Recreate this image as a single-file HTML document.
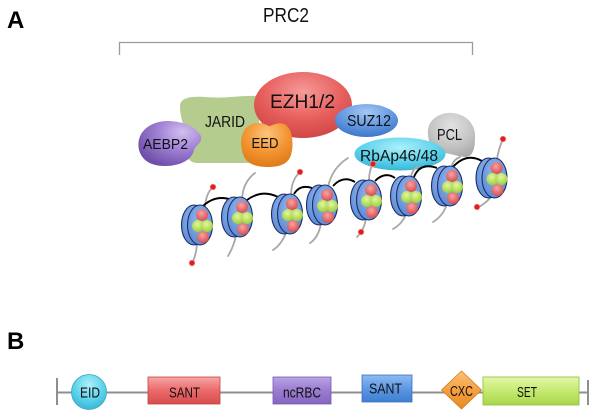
<!DOCTYPE html>
<html><head><meta charset="utf-8"><style>
html,body{margin:0;padding:0;background:#fff;}
svg{display:block;}
text{font-family:"Liberation Sans",sans-serif;}
</style></head><body>
<svg width="600" height="417" viewBox="0 0 600 417" xmlns="http://www.w3.org/2000/svg">
<defs>
<radialGradient id="gRed" cx="50%" cy="30%" r="70%"><stop offset="0" stop-color="#f59a98"/><stop offset="0.6" stop-color="#e65e5c"/><stop offset="1" stop-color="#cf4646"/></radialGradient>
<radialGradient id="gPur" cx="70%" cy="25%" r="80%"><stop offset="0" stop-color="#d2bff0"/><stop offset="0.5" stop-color="#9f80d4"/><stop offset="1" stop-color="#6f50aa"/></radialGradient>
<radialGradient id="gOra" cx="50%" cy="25%" r="75%"><stop offset="0" stop-color="#fcc57e"/><stop offset="0.55" stop-color="#f39532"/><stop offset="1" stop-color="#e07a18"/></radialGradient>
<radialGradient id="gBlu" cx="50%" cy="25%" r="75%"><stop offset="0" stop-color="#a6c8f4"/><stop offset="0.6" stop-color="#5f96e0"/><stop offset="1" stop-color="#3f76c6"/></radialGradient>
<radialGradient id="gGry" cx="50%" cy="30%" r="75%"><stop offset="0" stop-color="#e2e2e2"/><stop offset="0.6" stop-color="#c4c4c4"/><stop offset="1" stop-color="#a8a8a8"/></radialGradient>
<radialGradient id="gCya" cx="50%" cy="30%" r="75%"><stop offset="0" stop-color="#aef0fa"/><stop offset="0.6" stop-color="#58d0ea"/><stop offset="1" stop-color="#35b0d2"/></radialGradient>
<radialGradient id="gNuc" cx="50%" cy="35%" r="75%"><stop offset="0" stop-color="#94baf0"/><stop offset="1" stop-color="#5282d2"/></radialGradient>
<radialGradient id="gBall" cx="45%" cy="35%" r="65%"><stop offset="0" stop-color="#f6a4a4"/><stop offset="1" stop-color="#d84e50"/></radialGradient>
<radialGradient id="gGrn" cx="45%" cy="35%" r="65%"><stop offset="0" stop-color="#e4f7a0"/><stop offset="1" stop-color="#9ccf3c"/></radialGradient>
<linearGradient id="lRed" x1="0" y1="0" x2="0" y2="1"><stop offset="0" stop-color="#f7a6a6"/><stop offset="0.5" stop-color="#eb6a6a"/><stop offset="1" stop-color="#d84c4c"/></linearGradient>
<linearGradient id="lPur" x1="0" y1="0" x2="0" y2="1"><stop offset="0" stop-color="#b9a2e6"/><stop offset="0.5" stop-color="#9a7cd0"/><stop offset="1" stop-color="#8466c0"/></linearGradient>
<linearGradient id="lBlu" x1="0" y1="0" x2="0" y2="1"><stop offset="0" stop-color="#8fbaf2"/><stop offset="0.5" stop-color="#5e98e4"/><stop offset="1" stop-color="#3f7ed2"/></linearGradient>
<linearGradient id="lOra" x1="0" y1="0" x2="0" y2="1"><stop offset="0" stop-color="#fcc27a"/><stop offset="0.5" stop-color="#f5a040"/><stop offset="1" stop-color="#e88a22"/></linearGradient>
<linearGradient id="lGrn" x1="0" y1="0" x2="0" y2="1"><stop offset="0" stop-color="#e4f8a8"/><stop offset="0.5" stop-color="#c4ea70"/><stop offset="1" stop-color="#a8d64a"/></linearGradient>
<g id="nuc">
  <ellipse cx="-6" cy="0" rx="12.5" ry="20" fill="url(#gNuc)" stroke="#1c2c60" stroke-width="1.1"/>
  <ellipse cx="0" cy="0" rx="12.5" ry="20" fill="url(#gNuc)" stroke="#1c2c60" stroke-width="1.1"/>
  <circle cx="2" cy="-10" r="6" fill="url(#gBall)"/>
  <circle cx="3" cy="12" r="6" fill="url(#gBall)"/>
  <circle cx="-2" cy="1" r="6" fill="url(#gGrn)"/>
  <circle cx="7" cy="1" r="6" fill="url(#gGrn)"/>
</g>
</defs>

<!-- labels -->
<text x="7" y="28" font-size="24" font-weight="bold" fill="#000">A</text>
<text x="7" y="349" font-size="24" font-weight="bold" fill="#000">B</text>

<!-- PRC2 bracket -->
<text x="286" y="22" font-size="20" text-anchor="middle" textLength="46" lengthAdjust="spacingAndGlyphs" fill="#111">PRC2</text>
<path d="M119.5,55 V42.5 H472.5 V55" fill="none" stroke="#9a9a9a" stroke-width="1.3"/>

<!-- complex -->
<path d="M180,106 C180,98 190,96 205,97 C225,99 240,95 259,96 L259,163 L198,163 C190,163 186,158 186,150 L184,128 C182,120 180,114 180,106 Z" fill="#b4cd8f"/>
<ellipse cx="303" cy="105" rx="49" ry="33" fill="url(#gRed)"/>
<path d="M139,150 C135,132 151,120 170,121 C185,122 196,127 201,136 C203,142 196,145 194,150 C192,160 180,166 165,166 C150,166 142,160 139,150 Z" fill="url(#gPur)"/>
<path d="M242,150 C238,132 248,122 260,123 C265,123 267,126 270,126 C273,125 278,122 284,124 C293,128 294,145 291,155 C288,164 280,167 268,167 C252,167 244,162 242,150 Z" fill="url(#gOra)"/>
<ellipse cx="366.5" cy="120.5" rx="31.5" ry="16.5" fill="url(#gBlu)"/>
<path d="M428,135 C426,120 440,112 452,113 C466,114 476,124 475,138 C475,148 473,157 465,157 C455,156 450,153 442,153 C432,152 429,145 428,135 Z" fill="url(#gGry)"/>
<ellipse cx="400" cy="154" rx="45.5" ry="16.5" fill="url(#gCya)"/>

<text x="302.5" y="108" font-size="19" text-anchor="middle" textLength="65" lengthAdjust="spacingAndGlyphs" fill="#111">EZH1/2</text>
<text x="225" y="127" font-size="16" text-anchor="middle" textLength="40" lengthAdjust="spacingAndGlyphs" fill="#111">JARID</text>
<text x="165.5" y="149" font-size="15" text-anchor="middle" textLength="45" lengthAdjust="spacingAndGlyphs" fill="#111">AEBP2</text>
<text x="265" y="148" font-size="14.5" text-anchor="middle" textLength="27" lengthAdjust="spacingAndGlyphs" fill="#111">EED</text>
<text x="369" y="126" font-size="16" text-anchor="middle" textLength="44" lengthAdjust="spacingAndGlyphs" fill="#111">SUZ12</text>
<text x="449.5" y="140" font-size="16" text-anchor="middle" textLength="25" lengthAdjust="spacingAndGlyphs" fill="#111">PCL</text>
<text x="399" y="161" font-size="15.5" text-anchor="middle" textLength="78" lengthAdjust="spacingAndGlyphs" fill="#111">RbAp46/48</text>

<!-- grey DNA tails -->
<g fill="none" stroke="#a8a8a8" stroke-width="1.8" stroke-linecap="round">
  <path d="M213,187 Q206,193 205,207"/><path d="M197,244 Q196,256 192,263"/>
  <path d="M255,173 Q243,182 242,199"/><path d="M236,236 Q233,248 228,256"/>
  <path d="M300,172 Q291,180 291,196"/><path d="M286,233 Q281,245 273,250"/>
  <path d="M348,158 Q332,168 328,187"/><path d="M321,224 Q318,238 310,243"/>
  <path d="M373,164 Q369,170 369,181"/><path d="M366,219 Q364,230 357,237"/>
  <path d="M418,166 Q412,170 411,177"/><path d="M406,215 Q401,225 393,229"/>
  <path d="M460,157 Q453,160 452,166"/><path d="M447,204 Q443,216 433,222"/>
  <path d="M503,139 Q498,150 497,160"/><path d="M491,197 Q485,204 477,208"/>
</g>
<!-- black linker -->
<g fill="none" stroke="#000" stroke-width="1.9">
  <path d="M203,206 Q216,194 232,200"/>
  <path d="M247,200 Q262,189 278,197"/>
  <path d="M294,194 Q300,184 312,188"/>
  <path d="M333,186 Q343,175 355,182"/>
  <path d="M375,181 Q385,171 395,178"/>
  <path d="M414,177 Q420,162 437,168"/>
  <path d="M452,168 Q466,152 482,161"/>
</g>
<!-- nucleosomes -->
<use href="#nuc" x="200" y="225"/>
<use href="#nuc" x="240" y="217"/>
<use href="#nuc" x="290" y="214"/>
<use href="#nuc" x="325" y="205"/>
<use href="#nuc" x="369" y="200"/>
<use href="#nuc" x="409" y="196"/>
<use href="#nuc" x="450" y="186"/>
<use href="#nuc" x="494.5" y="178"/>
<!-- red dots -->
<g fill="#e01c1c" stroke="#f07070" stroke-width="0.8">
  <circle cx="213" cy="187" r="2.7"/><circle cx="300" cy="172" r="2.7"/>
  <circle cx="373" cy="164" r="2.7"/><circle cx="503" cy="139" r="2.7"/>
  <circle cx="192" cy="263" r="2.7"/><circle cx="361" cy="232" r="2.7"/>
  <circle cx="477" cy="207" r="2.7"/>
</g>

<!-- Panel B -->
<g stroke="#8f8f8f" stroke-width="2" fill="none">
  <path d="M57,392.5 H588"/>
  <path d="M57,378 V405"/>
  <path d="M588,380 V405"/>
</g>
<circle cx="89" cy="392" r="17.5" fill="url(#gCya)" stroke="#3aa6c6" stroke-width="0.8"/>
<rect x="148" y="377" width="72" height="27" fill="url(#lRed)" stroke="#c44444" stroke-width="0.8"/>
<rect x="273" y="377" width="58" height="27" fill="url(#lPur)" stroke="#7658b0" stroke-width="0.8"/>
<rect x="362" y="375" width="50" height="27" fill="url(#lBlu)" stroke="#3a70c0" stroke-width="0.8"/>
<path d="M461.5,371 L481.5,390 L461.5,409 L441.5,390 Z" fill="url(#lOra)" stroke="#d47a1a" stroke-width="0.8"/>
<rect x="483" y="377" width="96" height="28" fill="url(#lGrn)" stroke="#8cbc38" stroke-width="0.8"/>
<g fill="#111" font-size="15" text-anchor="middle">
  <text x="90" y="397.5" textLength="20" lengthAdjust="spacingAndGlyphs">EID</text>
  <text x="184.5" y="397.5" textLength="31" lengthAdjust="spacingAndGlyphs">SANT</text>
  <text x="302" y="397.5" textLength="38" lengthAdjust="spacingAndGlyphs">ncRBC</text>
  <text x="385.5" y="393.5" textLength="33" lengthAdjust="spacingAndGlyphs">SANT</text>
  <text x="461.5" y="396" textLength="23" lengthAdjust="spacingAndGlyphs">CXC</text>
  <text x="527" y="397" textLength="20" lengthAdjust="spacingAndGlyphs">SET</text>
</g>
</svg>
</body></html>
